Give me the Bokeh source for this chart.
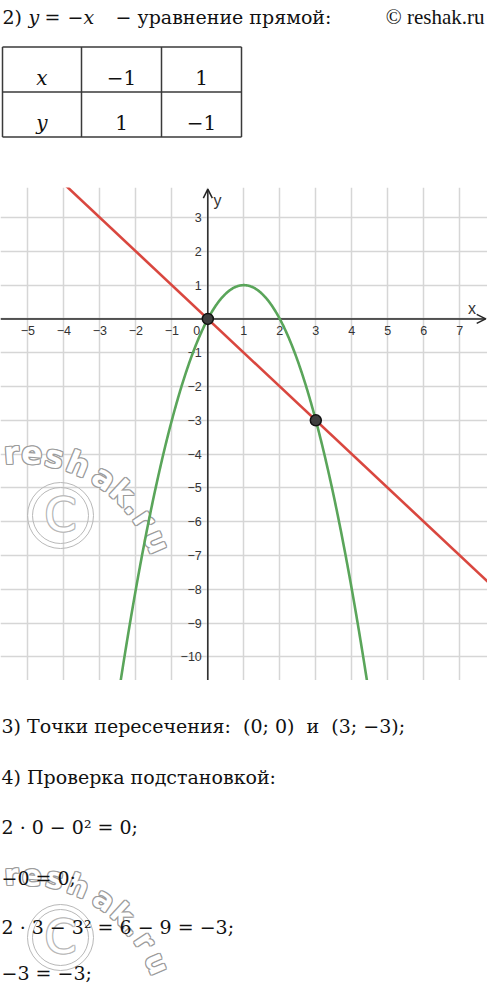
import numpy as np
from bokeh.plotting import figure
from bokeh.layouts import column
from bokeh.models import Range1d, FixedTicker, Arrow, OpenHead
from bokeh.core.properties import value
from bokeh.embed import file_html
from bokeh.resources import INLINE

PAGE_W = 487

# ---- data -------------------------------------------------------------
# straight line y = -x given by its value table
table_x = [-1, 1]
table_y = [1, -1]
# parabola y = a*x^2 + b*x + c
par_a, par_b, par_c = -1, 2, 0
# intersection points
cross_x = [0, 3]
cross_y = [0, -3]
# axis ticks
x_ticks = [-5, -4, -3, -2, -1, 1, 2, 3, 4, 5, 6, 7]
y_ticks = [-10, -9, -8, -7, -6, -5, -4, -3, -2, -1, 1, 2, 3]
x_view = (-5.76, 7.77)
y_view = (-10.70, 3.89)

SERIF = value("DejaVu Serif")
SANS = value("Liberation Sans")
INK = "#111111"
NBSP = "\u00a0"


def fmt(v):
    return str(v).replace("-", "\u2212")


def make_page_fig(top_px, bottom_px):
    p = figure(width=PAGE_W, height=bottom_px - top_px,
               x_range=Range1d(0, PAGE_W), y_range=Range1d(bottom_px, top_px),
               output_backend="svg", toolbar_location=None, min_border=0,
               x_axis_location=None, y_axis_location=None,
               outline_line_color=None, background_fill_color="white",
               border_fill_color="white")
    p.grid.visible = False
    return p


def outline_text(p, xs, ys, texts, size, angles, font, style="bold",
                 stroke="#a8a8a8", **kw):
    offs = [(-1, 0), (1, 0), (0, -1), (0, 1), (-1, -1), (1, 1), (-1, 1), (1, -1)]
    for dx, dy in offs:
        p.text(xs, ys, text=texts, angle=angles, x_offset=dx, y_offset=dy,
               text_font=font, text_font_size=size, text_font_style=style,
               text_color=stroke, text_align="center", text_baseline="middle", **kw)
    p.text(xs, ys, text=texts, angle=angles, text_font=font, text_font_size=size,
           text_font_style=style, text_color="white", text_align="center",
           text_baseline="middle", **kw)


def watermark(p, cx, cy, font_size="31px", **kw):
    # copyright sign
    for d in (66, 56):
        p.scatter([cx], [cy], size=d, marker="circle", fill_color=None,
                  line_color="#b8b8b8", line_width=1, **kw)
    outline_text(p, [cx], [cy - 1], ["C"], "46px", [0.0], value("DejaVu Sans"),
                 style="normal", stroke="#b8b8b8", **kw)
    # site name bent along an arc
    chars = list("reshak.ru")
    deg = np.array([-93.9, -85.9, -77.0, -67.4, -56.0, -47.0, -40.0, -33.5, -23.5])
    acx, acy, R = cx - 39, cy + 85, 148
    rad = np.radians(deg)
    xs = acx + R * np.cos(rad)
    ys = acy + R * np.sin(rad)
    angles = list(-np.radians(deg + 90))
    outline_text(p, list(xs), list(ys), chars, font_size, angles, value("DejaVu Sans"),
                 style="bold", stroke="#9c9c9c", **kw)


# ---- header with the value table ---------------------------------------
top = make_page_fig(0, 187)
head = [("2)", 2, "normal"), ("y", 28, "italic"), ("=", 44, "normal"),
        ("\u2212", 67, "normal"), ("x", 83, "italic"),
        ("\u2212 уравнение прямой:", 115, "normal")]
for txt, x, st in head:
    top.text([x], [16], text=[txt], text_font=SERIF, text_font_size="19px",
             text_font_style=st, text_color=INK, text_align="left",
             text_baseline="alphabetic")
top.text([484], [16], text=["© reshak.ru"], text_font=value("Liberation Serif"),
         text_font_size="21px", text_color=INK, text_align="right",
         text_baseline="alphabetic")

col_edges = [2, 81, 161, 241]
row_edges = [46.5, 91.5, 136.5]
for cx in col_edges:
    top.line([cx, cx], [row_edges[0], row_edges[-1]], line_color="#3a3a3a", line_width=1.5)
for ry in row_edges:
    top.line([col_edges[0], col_edges[-1]], [ry, ry], line_color="#3a3a3a", line_width=1.5)
col_mid = [(a + b) / 2 for a, b in zip(col_edges[:-1], col_edges[1:])]
row_base = [77, 122]
top.text([col_mid[0]] * 2, row_base, text=["x", "y"], text_font=SERIF,
         text_font_size="20px", text_font_style="italic", text_color=INK,
         text_align="center", text_baseline="alphabetic")
top.text(col_mid[1:], [row_base[0]] * 2, text=[fmt(v) for v in table_x],
         text_font=SERIF, text_font_size="20px", text_color=INK,
         text_align="center", text_baseline="alphabetic")
top.text(col_mid[1:], [row_base[1]] * 2, text=[fmt(v) for v in table_y],
         text_font=SERIF, text_font_size="20px", text_color=INK,
         text_align="center", text_baseline="alphabetic")

# ---- coordinate plane ---------------------------------------------------
G_TOP, G_BOT = 187, 680
p = figure(width=PAGE_W, height=G_BOT - G_TOP,
           x_range=Range1d(*x_view), y_range=Range1d(*y_view),
           output_backend="svg", toolbar_location=None, min_border=0,
           x_axis_location=None, y_axis_location=None,
           outline_line_color=None, background_fill_color="white",
           border_fill_color="white")
p.extra_x_ranges = {"px": Range1d(0, PAGE_W)}
p.extra_y_ranges = {"py": Range1d(G_BOT, G_TOP)}
grid_ticks_x = list(range(-5, 8))
grid_ticks_y = list(range(-10, 4))
p.xgrid.ticker = FixedTicker(ticks=grid_ticks_x)
p.ygrid.ticker = FixedTicker(ticks=grid_ticks_y)
p.grid.grid_line_color = "#d6d6d6"
p.grid.grid_line_width = 1.5

watermark(p, 60, 515, x_range_name="px", y_range_name="py")

AXIS = "#252525"
p.add_layout(Arrow(end=OpenHead(size=9, line_width=1.5, line_color=AXIS),
                   x_start=x_view[0], y_start=0, x_end=x_view[1] - 0.05, y_end=0,
                   line_width=1.5, line_color=AXIS, level="underlay"))
p.add_layout(Arrow(end=OpenHead(size=9, line_width=1.5, line_color=AXIS),
                   x_start=0, y_start=y_view[0], x_end=0, y_end=y_view[1] - 0.05,
                   line_width=1.5, line_color=AXIS, level="underlay"))

TICK_FONT = "12.5px"
p.text(x_ticks, [0] * len(x_ticks), text=[fmt(v) for v in x_ticks], y_offset=12,
       text_font=SANS, text_font_size=TICK_FONT, text_color="#333333",
       text_align="center", text_baseline="middle")
p.text([0] * len(y_ticks), y_ticks, text=[fmt(v) for v in y_ticks], x_offset=-6,
       text_font=SANS, text_font_size=TICK_FONT, text_color="#333333",
       text_align="right", text_baseline="middle")
p.text([0], [0], text=["0"], x_offset=-11, y_offset=12, text_font=SANS,
       text_font_size=TICK_FONT, text_color="#333333", text_align="center",
       text_baseline="middle")
p.text([7.34], [0.30], text=["x"], text_font=SANS, text_font_size="16px",
       text_color="#333333", text_align="center", text_baseline="middle")
p.text([0.27], [3.50], text=["y"], text_font=SANS, text_font_size="16px",
       text_color="#333333", text_align="center", text_baseline="middle")

# line through the two table points, extended over the view
k = (table_y[1] - table_y[0]) / (table_x[1] - table_x[0])
b = table_y[0] - k * table_x[0]
lx = np.array([x_view[0] - 1, x_view[1] + 1])
p.line(lx, k * lx + b, line_color="#d9473f", line_width=2.6)

px_ = np.linspace(-3.0, 5.0, 600)
p.line(px_, par_a * px_ ** 2 + par_b * px_ + par_c, line_color="#5aa55a", line_width=2.6)

p.scatter(cross_x, cross_y, size=11, marker="circle", fill_color="#3f3f3f",
          line_color="#111111", line_width=1.5)

# ---- answer text ----------------------------------------------------------
bot = make_page_fig(G_BOT, 986)
watermark(bot, 60, 937, font_size="29px")
gap = NBSP * 2
pts = f"{gap}и{gap}".join(f"({fmt(x)};{NBSP}{fmt(y)})" for x, y in zip(cross_x, cross_y))
lines = [
    ("3) Точки пересечения:" + gap + pts + ";", 725),
    ("4) Проверка подстановкой:", 776),
    ("2 · 0 \u2212 0² = 0;", 826),
    ("\u22120 = 0;", 877),
    ("2 · 3 \u2212 3² = 6 \u2212 9 = \u22123;", 926),
    ("\u22123 = \u22123;", 972),
]
for txt, yb in lines:
    bot.text([1], [yb], text=[txt], text_font=SERIF, text_font_size="19px",
             text_color=INK, text_align="left", text_baseline="alphabetic")

layout = column(top, p, bot, spacing=0)
open("out.html", "w").write(file_html(layout, INLINE))
